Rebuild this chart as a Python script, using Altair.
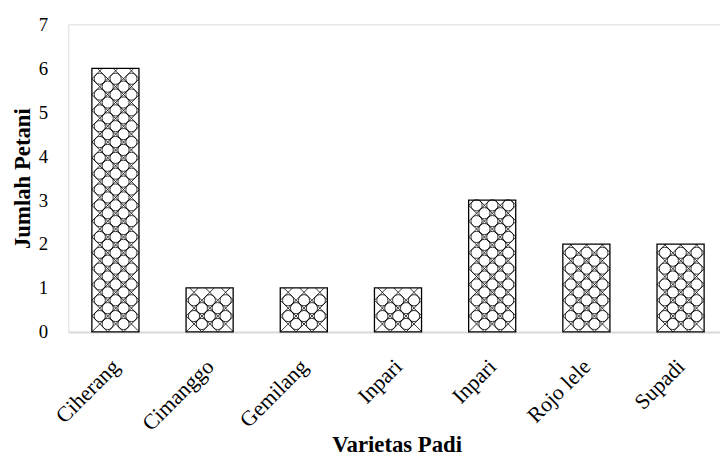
import json
import altair as alt
import pandas as pd

# ---------------- data ----------------
categories = ["Ciherang", "Cimanggo", "Gemilang", "Inpari", "Inpari", "Rojo lele", "Supadi"]
values = [6, 1, 1, 1, 3, 2, 2]
y_ticks = [0, 1, 2, 3, 4, 5, 6, 7]

# ---------------- geometry / style ----------------
W, H = 659, 311          # plot area in px
STEP = 95.25             # px per category slot
XMAX = W / STEP
YMAX = 7
UPX = H / YMAX           # px per y unit
BAR_PAD = 0.25           # fraction of slot left empty each side
CELL = 16                # pattern cell size in px
FONT = "Liberation Serif"

bars = pd.DataFrame({"pos": list(range(len(categories))), "label": categories, "value": values})
bars["x0"] = bars["pos"] + BAR_PAD
bars["x1"] = bars["pos"] + 1 - BAR_PAD
bars["base"] = 0

# cross-hatch pattern, clipped to each bar (computed from the bar values)
segs = []
rings = []
bw = (1 - 2 * BAR_PAD) * STEP
R = CELL / 2 / 2 ** 0.5  # inscribed circle radius
for i, v in enumerate(values):
    h = v * UPX
    kmin = int(-bw // CELL) - 2
    kmax = int((bw + h) // CELL) + 2
    for k in range(kmin, kmax + 1):
        c = k * CELL
        xa, xb = max(0, -c), min(bw, h - c)
        if xb > xa + 0.01:
            segs.append((i, xa, xa + c, xb, xb + c))
        xa, xb = max(0, c - h), min(bw, c)
        if xb > xa + 0.01:
            segs.append((i, xa, c - xa, xb, c - xb))
    half = CELL // 2
    for gx in range(0, int(bw) + CELL, half):
        for gy in range(0, int(h) + CELL, half):
            if (gx + gy) % CELL != half:
                continue
            if gx - R >= -0.8 and gx + R <= bw + 0.8 and gy - R >= -0.8 and gy + R <= h + 0.8:
                rings.append((i, gx, gy))

pat = pd.DataFrame(
    [
        {
            "x0": i + BAR_PAD + x1 / STEP,
            "value": y1 / UPX,
            "x1": i + BAR_PAD + x2 / STEP,
            "base": y2 / UPX,
        }
        for (i, x1, y1, x2, y2) in segs
    ]
)
ring_df = pd.DataFrame(
    [{"x0": i + BAR_PAD + gx / STEP, "value": gy / UPX} for (i, gx, gy) in rings]
)

xscale = alt.Scale(domain=[0, XMAX], nice=False, zero=False)
yscale = alt.Scale(domain=[0, YMAX], nice=False, zero=False)

label_expr = json.dumps(categories) + "[round(datum.value - 0.5)]"

x_axis = alt.Axis(
    values=[p + 0.5 for p in range(len(categories))],
    labelExpr=label_expr,
    title="Varietas Padi",
    grid=False,
    ticks=False,
    domainColor="#d9d9d9",
    domainWidth=2,
    labelAngle=-45,
    labelAlign="right",
    labelBaseline="top",
    labelPadding=24,
    labelOffset=-7,
    labelFont=FONT,
    labelFontSize=22,
    labelColor="black",
    labelOverlap=False,
    labelFlush=False,
    titleFont=FONT,
    titleFontSize=23,
    titleFontWeight="bold",
    titleColor="black",
    titleX=332,
    titleY=121,
    titleAlign="center",
    titleBaseline="alphabetic",
)

y_axis = alt.Axis(
    values=y_ticks,
    title="Jumlah Petani",
    grid=False,
    ticks=False,
    domain=False,
    labelFont=FONT,
    labelFontSize=19,
    labelColor="black",
    labelPadding=21,
    labelOverlap=False,
    titleFont=FONT,
    titleFontSize=23,
    titleFontWeight="bold",
    titleColor="black",
    titleX=-46,
    titleY=H / 2,
    titleAngle=-90,
    titleAlign="center",
    titleBaseline="middle",
)

enc = dict(
    x=alt.X("x0:Q", scale=xscale, axis=x_axis),
    x2="x1:Q",
    y=alt.Y("value:Q", scale=yscale, axis=y_axis),
    y2="base:Q",
)

fill_layer = alt.Chart(bars).mark_rect(fill="white", strokeWidth=0).encode(**enc)
pattern_layer = alt.Chart(pat).mark_rule(color="black", strokeWidth=0.8).encode(**enc)
ring_layer = alt.Chart(ring_df).mark_point(
    shape="circle", filled=False, size=(2 * R) ** 2, color="black", strokeWidth=0.8, opacity=1
).encode(
    x=alt.X("x0:Q", scale=xscale, axis=x_axis),
    y=alt.Y("value:Q", scale=yscale, axis=y_axis),
)
outline_layer = alt.Chart(bars).mark_rect(
    fillOpacity=0, fill="white", stroke="black", strokeWidth=1.3
).encode(**enc)

chart = (
    alt.layer(fill_layer, pattern_layer, ring_layer, outline_layer)
    .properties(
        width=W,
        height=H,
        autosize=alt.AutoSizeParams(type="none"),
        padding={"left": 61, "top": 14, "right": 0, "bottom": 127},
    )
    .configure_view(strokeWidth=0, stroke="transparent")
    .configure(background="white")
)

chart.save("out.html", embed_options={"renderer": "svg", "actions": False})
